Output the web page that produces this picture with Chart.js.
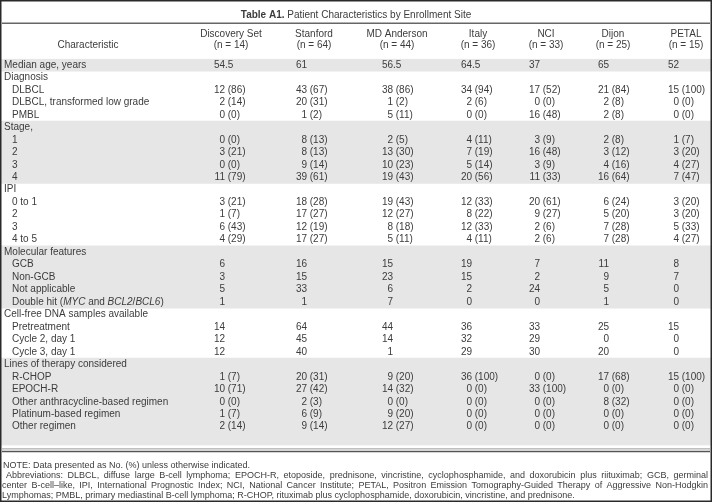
<!DOCTYPE html>
<html><head><meta charset="utf-8">
<script src="https://cdn.jsdelivr.net/npm/chart.js@4/dist/chart.umd.min.js"></script>
<style>html,body{margin:0;padding:0;background:#fff}canvas{display:block}</style>
</head><body>
<canvas id="c" width="712" height="502"></canvas>
<script>
// ---------- data ----------
const sites = ["Discovery Set","Stanford","MD Anderson","Italy","NCI","Dijon","PETAL"];
const siteN = [14,64,44,36,33,25,15];
const sectionTitles = ["Median age, years","Diagnosis","Stage,","IPI","Molecular features","Cell-free DNA samples available","Lines of therapy considered"];
const medianAge = [54.5,61,56.5,64.5,37,65,52];

const diagnosisLabels = ["DLBCL","DLBCL, transformed low grade","PMBL"];
const diagnosisN   = [[12,43,38,34,17,21,15],[2,20,1,2,0,2,0],[0,1,5,0,16,2,0]];
const diagnosisPct = [[86,67,86,94,52,84,100],[14,31,2,6,0,8,0],[0,2,11,0,48,8,0]];

const stageLabels = ["1","2","3","4"];
const stageN   = [[0,8,2,4,3,2,1],[3,8,13,7,16,3,3],[0,9,10,5,3,4,4],[11,39,19,20,11,16,7]];
const stagePct = [[0,13,5,11,9,8,7],[21,13,30,19,48,12,20],[0,14,23,14,9,16,27],[79,61,43,56,33,64,47]];

const ipiLabels = ["0 to 1","2","3","4 to 5"];
const ipiN   = [[3,18,19,12,20,6,3],[1,17,12,8,9,5,3],[6,12,8,12,2,7,5],[4,17,5,4,2,7,4]];
const ipiPct = [[21,28,43,33,61,24,20],[7,27,27,22,27,20,20],[43,19,18,33,6,28,33],[29,27,11,11,6,28,27]];

const molecularLabels = ["GCB","Non-GCB","Not applicable","Double hit (*MYC* and *BCL2*/*BCL6*)"];
const molecularN = [[6,16,15,19,7,11,8],[3,15,23,15,2,9,7],[5,33,6,2,24,5,0],[1,1,7,0,0,1,0]];

const cfdnaLabels = ["Pretreatment","Cycle 2, day 1","Cycle 3, day 1"];
const cfdnaN = [[14,64,44,36,33,25,15],[12,45,14,32,29,0,0],[12,40,1,29,30,20,0]];

const therapyLabels = ["R-CHOP","EPOCH-R","Other anthracycline-based regimen","Platinum-based regimen","Other regimen"];
const therapyN   = [[1,20,9,36,0,17,15],[10,27,14,0,33,0,0],[0,2,0,0,0,8,0],[1,6,9,0,0,0,0],[2,9,12,0,0,0,0]];
const therapyPct = [[7,31,20,100,0,68,100],[71,42,32,0,100,0,0],[0,3,0,0,0,32,0],[7,9,20,0,0,0,0],[14,14,27,0,0,0,0]];

const titleBold = "Table A1.";
const titleText = "Patient Characteristics by Enrollment Site";
const headerLabel = "Characteristic";
const noteLine = "NOTE: Data presented as No. (%) unless otherwise indicated.";
const abbrevLines = [
  "Abbreviations: DLBCL, diffuse large B-cell lymphoma; EPOCH-R, etoposide, prednisone, vincristine, cyclophosphamide, and doxorubicin plus riituximab; GCB, germinal",
  "center B-cell\u2013like, IPI, International Prognostic Index; NCI, National Cancer Institute; PETAL, Positron Emission Tomography-Guided Therapy of Aggressive Non-Hodgkin",
  "Lymphomas; PMBL, primary mediastinal B-cell lymphoma; R-CHOP, rituximab plus cyclophosphamide, doxorubicin, vincristine, and prednisone."
];

// ---------- layout / style ----------
const STYLE = {
  text:'#3c3c3c', band:'#e6e6e6', frame:'#2a2a2a',
  font:'10px "Liberation Sans", Arial, sans-serif',
  bold:'bold 10px "Liberation Sans", Arial, sans-serif',
  ital:'italic 10px "Liberation Sans", Arial, sans-serif',
  foot:'9px "Liberation Sans", Arial, sans-serif',
  secX:4, subX:12, charX:88,
  colCenters:[231,314,397,478,546,613,686],
  colAnchors:[225,307,393,472,540,609,679]
};

// ---------- build rows ----------
const rows = [];
function addSection(si, labels, nArr, pArr){
  rows.push({label:sectionTitles[si], indent:false, shade:si%2===0, n:null});
  labels.forEach((l,k)=>rows.push({label:l, indent:true, shade:si%2===0, n:nArr[k], p:pArr?pArr[k]:null}));
}
rows.push({label:sectionTitles[0], indent:false, shade:true, n:medianAge, p:null});
addSection(1, diagnosisLabels, diagnosisN, diagnosisPct);
addSection(2, stageLabels, stageN, stagePct);
addSection(3, ipiLabels, ipiN, ipiPct);
addSection(4, molecularLabels, molecularN, null);
addSection(5, cfdnaLabels, cfdnaN, null);
addSection(6, therapyLabels, therapyN, therapyPct);
// bottom padding row of the last (shaded) section
rows.push({label:'', indent:false, shade:true, n:null});

function drawRich(ctx, text, x, y){
  const parts = text.split('*'); let cx = x;
  parts.forEach((p,k)=>{ ctx.font = k%2 ? STYLE.ital : STYLE.font; ctx.fillText(p,cx,y); cx += ctx.measureText(p).width; });
}
function drawValue(ctx, v, pct, anchor, y){
  const s = String(v), d = s.indexOf('.');
  const ip = d<0 ? s : s.slice(0,d);
  const rest = (d<0 ? '' : s.slice(d)) + (pct==null ? '' : ' (' + pct + ')');
  ctx.textAlign='right'; ctx.fillText(ip, anchor, y);
  if(rest){ ctx.textAlign='left'; ctx.fillText(rest, anchor, y); }
}
function justify(ctx, text, x0, x1, y){
  const words = text.split(' ');
  const w = words.reduce((a,t)=>a+ctx.measureText(t).width,0);
  const gap = (x1-x0-w)/(words.length-1);
  let cx = x0; ctx.textAlign='left';
  words.forEach(t=>{ ctx.fillText(t,cx,y); cx += ctx.measureText(t).width + gap; });
}

const tablePlugin = {
  id:'tableText',
  afterDatasetsDraw(chart){
    const {ctx, chartArea:ca, scales:{x,y}} = chart;
    ctx.save();
    ctx.fillStyle = STYLE.text; ctx.textBaseline = 'middle';
    // body
    rows.forEach((r,i)=>{
      const py = y.getPixelForValue(i);
      ctx.textAlign='left';
      drawRich(ctx, r.label, x.getPixelForValue(r.indent?STYLE.subX:STYLE.secX), py);
      ctx.font = STYLE.font;
      if(r.n) r.n.forEach((v,j)=>drawValue(ctx, v, r.p?r.p[j]:null, x.getPixelForValue(STYLE.colAnchors[j]), py));
    });
    // header
    const top = ca.top;
    ctx.font = STYLE.bold; const wb = ctx.measureText(titleBold+' ').width;
    ctx.font = STYLE.font; const wt = ctx.measureText(titleText).width;
    const tx = (ca.left+ca.right)/2 - (wb+wt)/2;
    ctx.textAlign='left';
    ctx.font = STYLE.bold; ctx.fillText(titleBold, tx, top-44);
    ctx.font = STYLE.font; ctx.fillText(titleText, tx+wb, top-44);
    ctx.strokeStyle = '#666'; ctx.lineWidth = 1.5;
    ctx.beginPath(); ctx.moveTo(2, top-35.5); ctx.lineTo(710, top-35.5); ctx.stroke();
    ctx.textAlign='center';
    sites.forEach((s,j)=>{
      const cx = x.getPixelForValue(STYLE.colCenters[j]);
      ctx.fillText(s, cx, top-25);
      ctx.fillText('(n = '+siteN[j]+')', cx, top-14);
    });
    ctx.fillText(headerLabel, x.getPixelForValue(STYLE.charX), top-14);
    // bottom rules
    const bot = ca.bottom;
    ctx.strokeStyle = '#999'; ctx.lineWidth = 1;
    ctx.beginPath(); ctx.moveTo(2, bot+3.5); ctx.lineTo(710, bot+3.5); ctx.stroke();
    ctx.strokeStyle = '#555'; ctx.lineWidth = 1.5;
    ctx.beginPath(); ctx.moveTo(2, bot+6); ctx.lineTo(710, bot+6); ctx.stroke();
    // footnotes
    ctx.font = STYLE.foot; ctx.textAlign='left';
    ctx.fillText(noteLine, 3, bot+20.5);
    justify(ctx, abbrevLines[0], 6, 708, bot+30.5);
    justify(ctx, abbrevLines[1], 2, 708, bot+40.5);
    ctx.textAlign='left'; ctx.fillText(abbrevLines[2], 2, bot+50.5);
    // frame
    ctx.strokeStyle = STYLE.frame; ctx.lineWidth = 1.5;
    ctx.strokeRect(0.75,0.75,710.5,500.5);
    ctx.restore();
  }
};

new Chart(document.getElementById('c'), {
  type:'bar',
  data:{
    labels: rows.map(r=>r.label),
    datasets:[{
      data: rows.map(r=>r.shade ? [0,712] : null),
      backgroundColor: STYLE.band, borderWidth:0,
      barPercentage:1, categoryPercentage:1
    }]
  },
  options:{
    indexAxis:'y', responsive:false, animation:false,
    layout:{padding:{top:58.8,bottom:56.6,left:0,right:0}},
    plugins:{legend:{display:false}, tooltip:{enabled:false}, title:{display:false}},
    scales:{
      x:{type:'linear', min:0, max:712, display:false},
      y:{type:'category', offset:true, display:false}
    }
  },
  plugins:[tablePlugin]
});
</script>
</body></html>
